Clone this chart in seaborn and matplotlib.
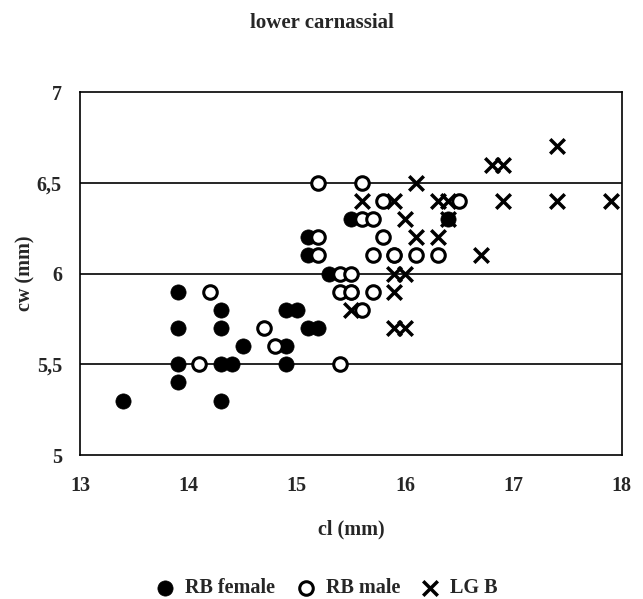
import pandas as pd
import numpy as np
import seaborn as sns
import matplotlib.pyplot as plt
from matplotlib.ticker import FixedLocator, FuncFormatter

# data
rb_female_cl = [13.4, 13.9, 13.9, 13.9, 13.9, 14.3, 14.3, 14.3, 14.3, 14.4, 14.5,
                14.9, 14.9, 14.9, 15.0, 15.1, 15.1, 15.1, 15.2, 15.3, 15.5, 15.5,
                15.9, 16.4]
rb_female_cw = [5.3, 5.9, 5.7, 5.5, 5.4, 5.8, 5.7, 5.5, 5.3, 5.5, 5.6,
                5.8, 5.6, 5.5, 5.8, 6.2, 6.1, 5.7, 5.7, 6.0, 6.3, 5.9,
                6.1, 6.3]

rb_male_cl = [14.1, 14.2, 14.7, 14.8, 15.2, 15.2, 15.2, 15.4, 15.4, 15.4, 15.5, 15.5,
              15.6, 15.6, 15.6, 15.7, 15.7, 15.7, 15.8, 15.8, 16.1, 16.3, 16.5, 15.9]
rb_male_cw = [5.5, 5.9, 5.7, 5.6, 6.5, 6.2, 6.1, 6.0, 5.9, 5.5, 6.0, 5.9,
              6.5, 6.3, 5.8, 6.3, 6.1, 5.9, 6.4, 6.2, 6.1, 6.1, 6.4, 6.1]

lgb_cl = [15.5, 15.6, 15.9, 15.9, 15.9, 15.9, 16.0, 16.0, 16.0, 16.1, 16.1,
          16.3, 16.3, 16.4, 16.4, 16.7, 16.8, 16.9, 16.9, 17.4, 17.4, 17.9]
lgb_cw = [5.8, 6.4, 6.4, 6.0, 5.9, 5.7, 6.3, 6.0, 5.7, 6.5, 6.2,
          6.4, 6.2, 6.3, 6.4, 6.1, 6.6, 6.6, 6.4, 6.7, 6.4, 6.4]

x_ticks = [13, 14, 15, 16, 17, 18]
y_ticks = [5, 5.5, 6, 6.5, 7]

sns.set_style("white")
plt.rcParams['font.family'] = ['Liberation Serif', 'DejaVu Serif']
plt.rcParams['font.weight'] = 'bold'

fig = plt.figure(figsize=(6.43, 5.99), dpi=100)
ax = fig.add_axes([0.1244, 0.2404, 0.8426, 0.606])

# horizontal grid lines
for yv in [5.5, 6, 6.5]:
    ax.axhline(yv, color='black', lw=1.2, zorder=0)

sns.scatterplot(x=rb_female_cl, y=rb_female_cw, ax=ax, marker='o', s=120,
                color='black', edgecolor='black', linewidth=0.5,
                label='RB female', zorder=3)
sns.scatterplot(x=rb_male_cl, y=rb_male_cw, ax=ax, marker='o', s=95,
                facecolor='white', edgecolor='black', linewidth=2.2,
                label='RB male', zorder=4)
sns.scatterplot(x=lgb_cl, y=lgb_cw, ax=ax, marker='x', s=110,
                color='black', linewidth=2.5, label='LG B', zorder=5)

ax.set_xlim(13, 18)
ax.set_ylim(5, 7)
ax.xaxis.set_major_locator(FixedLocator(x_ticks))
ax.yaxis.set_major_locator(FixedLocator(y_ticks))
ax.yaxis.set_major_formatter(FuncFormatter(lambda v, p: f"{v:g}".replace('.', ',')))
ax.tick_params(axis='both', direction='out', length=5, width=1.2, color='black',
               labelsize=14.5, pad=8)
ax.tick_params(axis='x', direction='inout', length=6, pad=12)
for lab in ax.get_xticklabels() + ax.get_yticklabels():
    lab.set_fontweight('bold')

for sp in ax.spines.values():
    sp.set_color('black')
    sp.set_linewidth(1.2)

ax.set_xlabel('cl (mm)', fontsize=14.5, fontweight='bold', labelpad=17)
ax.set_ylabel('cw (mm)', fontsize=14.5, fontweight='bold', labelpad=1)
fig.text(0.5, 0.962, 'lower carnassial', ha='center', va='center',
         fontsize=15, fontweight='bold')

ax.legend(loc='center', bbox_to_anchor=(0.5, 0.018), bbox_transform=fig.transFigure,
          ncol=3, frameon=False, handletextpad=0.0, columnspacing=0.5,
          prop={'size': 14.5, 'weight': 'bold'}, markerscale=1.0)

plt.savefig('out.png', dpi=100)
